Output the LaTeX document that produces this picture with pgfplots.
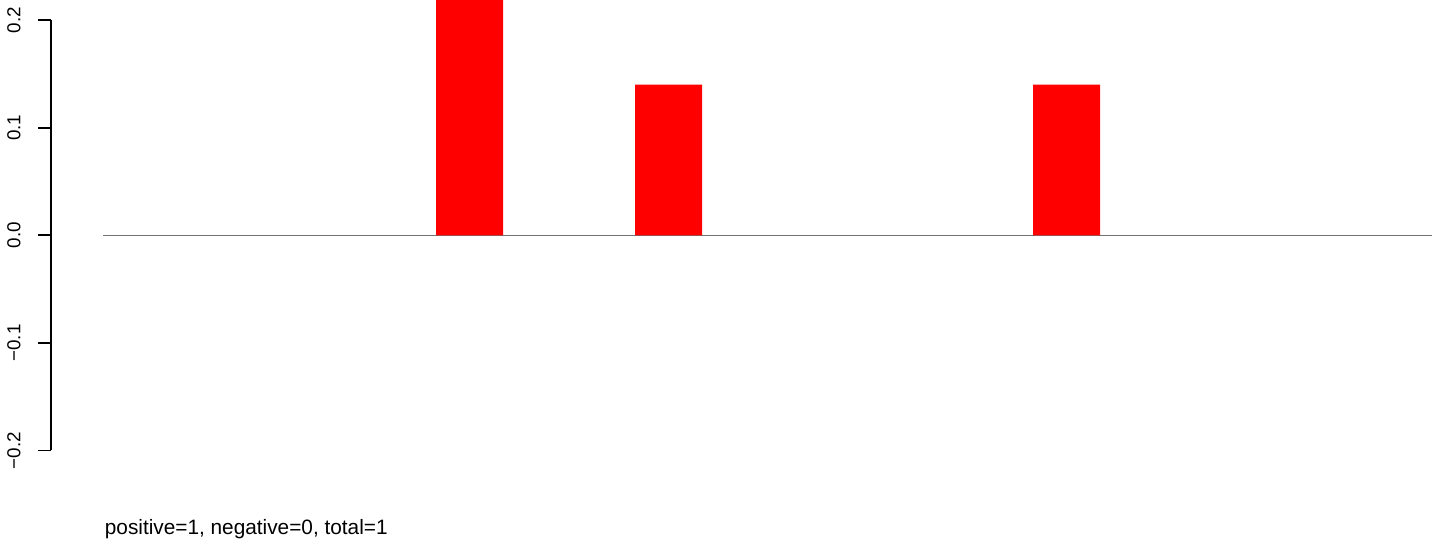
\documentclass[border=0pt]{standalone}
\usepackage{fontspec}
\setmainfont{Liberation Sans}
\usepackage{pgfplots}
\pgfplotsset{compat=1.18}
\begin{document}
\begin{tikzpicture}
\begin{axis}[
  name=ax,
  scale only axis,
  width=696.5bp, height=272bp,
  xmin=51, xmax=1444,
  ymin=-0.28690, ymax=0.21868,
  axis line style={draw=none},
  clip=false,
  xtick=\empty,
  ytick={-0.2,-0.1,0,0.1,0.2},
  yticklabels={−0.2,−0.1,0.0,0.1,0.2},
  ytick pos=left,
  tick align=outside,
  major tick length=6.5bp,
  ytick style={draw=black, line width=0.9bp},
  yticklabel shift=8.5bp,
  yticklabel style={rotate=90, anchor=south, inner sep=0pt, font=\fontsize{9.4bp}{11bp}\selectfont},
]
\addplot[draw=black, line width=0.9bp] coordinates {(51,-0.2) (51,0.2)};
\addplot[draw=black!55, line width=0.7bp] coordinates {(103.3,0) (1432.3,0)};
\addplot[ybar, bar width=67, fill=red, draw=none] coordinates {
  (469.5,0.26) (668.5,0.14) (1066.5,0.14)
};
\node[anchor=base west, inner sep=0pt, font=\fontsize{10.4bp}{12bp}\selectfont] at (axis cs:104.5,-0.2785) {positive=1, negative=0, total=1};
\end{axis}
\pgfresetboundingbox
\path (ax.south west) ++(-25.5bp,0) rectangle (ax.north east);
\end{tikzpicture}
\end{document}
